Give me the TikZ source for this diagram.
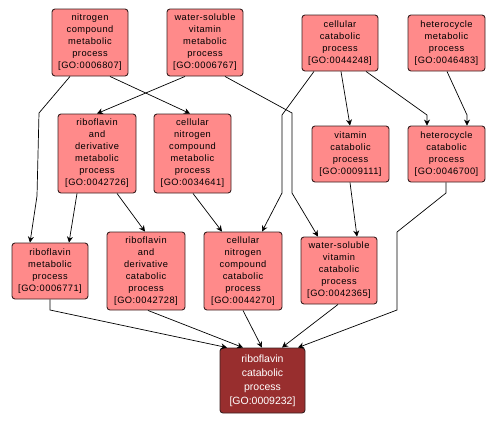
\documentclass[tikz,border=0pt]{standalone}
\usepackage{fontspec}
\setmainfont{Liberation Sans}
\newfontfamily\lbl[LetterSpace=5]{Liberation Sans}
\usetikzlibrary{arrows.meta,calc}
\definecolor{gofill}{HTML}{FF8A8A}
\definecolor{goedge}{HTML}{3A2020}
\definecolor{gomain}{HTML}{982E2E}
\tikzset{
  gobox/.style={draw=goedge, line width=0.9pt, fill=gofill, rounded corners=3pt,
    align=center, inner sep=0pt, font=\lbl\fontsize{9.3}{12}\selectfont},
  mainbox/.style={draw=goedge, line width=0.9pt, fill=gomain, rounded corners=3pt,
    align=center, inner sep=0pt, text=white, font=\fontsize{10.5}{14}\selectfont},
  conn/.style={draw=black, line width=0.7pt, -{Stealth[length=6pt,width=6pt]}},
}
\begin{document}
\begin{tikzpicture}[x=1pt,y=-1pt]
\useasboundingbox (0,0) rectangle (498,424);
\node[gobox, minimum width=76, minimum height=67] (n1) at (90,42.5) {nitrogen\\compound\\metabolic\\process\\{[}GO:0006807{]}};
\node[gobox, minimum width=76, minimum height=67] (n2) at (205,42.5) {water-soluble\\vitamin\\metabolic\\process\\{[}GO:0006767{]}};
\node[gobox, minimum width=76, minimum height=56] (n3) at (340,43) {cellular\\catabolic\\process\\{[}GO:0044248{]}};
\node[gobox, minimum width=77, minimum height=56] (n4) at (446.5,43) {heterocycle\\metabolic\\process\\{[}GO:0046483{]}};
\node[gobox, minimum width=78, minimum height=79] (n5) at (97,153.5) {riboflavin\\and\\derivative\\metabolic\\process\\{[}GO:0042726{]}};
\node[gobox, minimum width=77, minimum height=79] (n6) at (192.5,153.5) {cellular\\nitrogen\\compound\\metabolic\\process\\{[}GO:0034641{]}};
\node[gobox, minimum width=77, minimum height=56] (n7) at (350.5,154) {vitamin\\catabolic\\process\\{[}GO:0009111{]}};
\node[gobox, minimum width=77, minimum height=56] (n8) at (446.5,154) {heterocycle\\catabolic\\process\\{[}GO:0046700{]}};
\node[gobox, minimum width=76, minimum height=56] (n9) at (50,271) {riboflavin\\metabolic\\process\\{[}GO:0006771{]}};
\node[gobox, minimum width=78, minimum height=78] (n10) at (146,271) {riboflavin\\and\\derivative\\catabolic\\process\\{[}GO:0042728{]}};
\node[gobox, minimum width=78, minimum height=78] (n11) at (243,271) {cellular\\nitrogen\\compound\\catabolic\\process\\{[}GO:0044270{]}};
\node[gobox, minimum width=76, minimum height=67] (n12) at (339,270.5) {water-soluble\\vitamin\\catabolic\\process\\{[}GO:0042365{]}};
\node[mainbox, minimum width=85, minimum height=65] (n13) at (262.5,380.5) {riboflavin\\catabolic\\process\\{[}GO:0009232{]}};
% waypoints
\coordinate (w1a) at (39,113);
\coordinate (w1b) at (37,196);
\coordinate (w2a) at (292,113);
\coordinate (w2b) at (292,193);
\coordinate (w3a) at (282,115);
\coordinate (w3b) at (282,193);
\coordinate (w4) at (427,115);
\coordinate (w5) at (467,115);
\coordinate (w6a) at (446,193);
\coordinate (w6b) at (397,232);
\coordinate (w6c) at (397,310);
\coordinate (w7) at (50,310);
% connectors
\draw[conn] ($(n1.south)+(-20,0)$) -- (w1a) -- (w1b) -- ($(n9.north)+(-20,0)$);
\draw[conn] ($(n1.south)+(20,0)$) -- ($(n6.north)+(-2.5,0)$);
\draw[conn] ($(n2.south)+(-20,0)$) -- (n5.north);
\draw[conn] ($(n2.south)+(20,0)$) -- (w2a) -- (w2b) -- ($(n12.north)+(-21,0)$);
\draw[conn] ($(n3.south)+(-26,0)$) -- (w3a) -- (w3b) -- ($(n11.north)+(19,0)$);
\draw[conn] ($(n3.south)+(1,0)$) -- ($(n7.north)+(-0.5,0)$);
\draw[conn] ($(n3.south)+(26,0)$) -- (w4) -- ($(n8.north)+(-19.5,0)$);
\draw[conn] ($(n4.south)+(0.5,0)$) -- (w5) -- ($(n8.north)+(20.5,0)$);
\draw[conn] ($(n5.south)+(-20,0)$) -- ($(n9.north)+(19,0)$);
\draw[conn] ($(n5.south)+(20,0)$) -- ($(n10.north)+(-1,0)$);
\draw[conn] ($(n6.south)+(0.5,0)$) -- ($(n11.north)+(-21,0)$);
\draw[conn] ($(n7.south)+(-0.5,0)$) -- ($(n12.north)+(18,0)$);
\draw[conn] ($(n8.south)+(-0.5,0)$) -- (w6a) -- (w6b) -- (w6c) -- ($(n13.north)+(35.5,0)$);
\draw[conn] (n9.south) -- (w7) -- ($(n13.north)+(-35.5,0)$);
\draw[conn] ($(n10.south)+(2,0)$) -- ($(n13.north)+(-19.5,0)$);
\draw[conn] (n11.south) -- ($(n13.north)+(-0.5,0)$);
\draw[conn] ($(n12.south)+(-1,0)$) -- ($(n13.north)+(19.5,0)$);
\end{tikzpicture}
\end{document}
